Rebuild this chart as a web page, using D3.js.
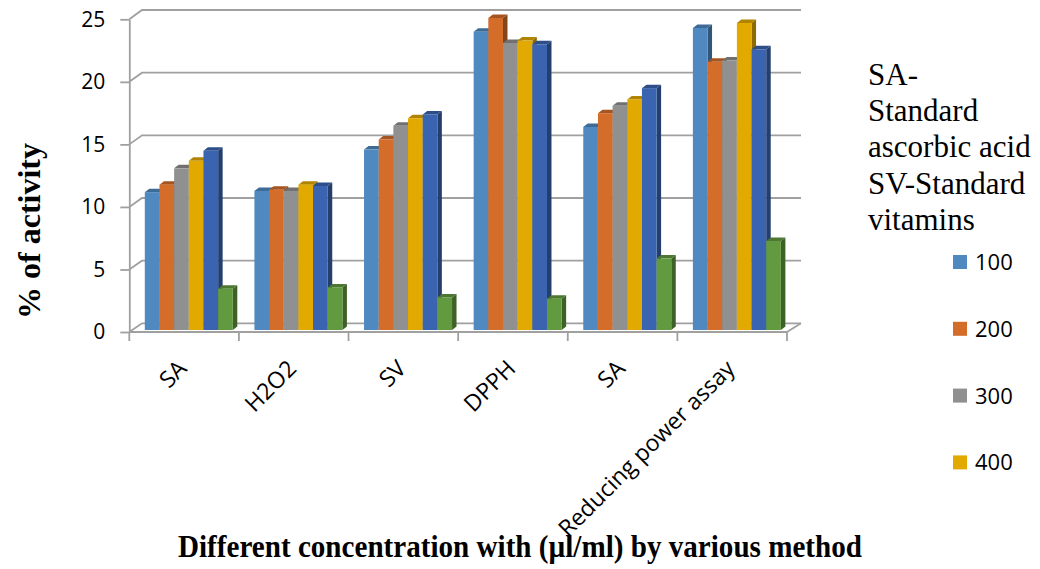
<!DOCTYPE html>
<html>
<head>
<meta charset="utf-8">
<script src="https://cdn.jsdelivr.net/npm/d3@7"></script>
<style>
  html, body { margin: 0; padding: 0; background: #ffffff; }
  svg { display: block; }
</style>
</head>
<body>
<svg id="chart" width="1040" height="569"></svg>
<script>
// ---- data -------------------------------------------------------------
const categories = ["SA", "H2O2", "SV", "DPPH", "SA", "Reducing power assay"];
const series = ["100", "200", "300", "400", "500", "600"];
const legendSeries = ["100", "200", "300", "400"];   // the legend column only holds four entries
const colors = ["#5089C0", "#D46D2A", "#909090", "#E2AA00", "#3A64AF", "#629A40"];

const values100 = [11.0, 11.1, 14.4, 23.8, 16.2, 24.1];
const values200 = [11.6, 11.2, 15.2, 24.9, 17.3, 21.4];
const values300 = [12.9, 11.1, 16.3, 22.9, 17.9, 21.5];
const values400 = [13.5, 11.6, 16.9, 23.1, 18.4, 24.5];
const values500 = [14.3, 11.5, 17.2, 22.8, 19.3, 22.4];
const values600 = [3.3, 3.4, 2.6, 2.5, 5.7, 7.1];
const seriesValues = [values100, values200, values300, values400, values500, values600];

const yTicks = [0, 5, 10, 15, 20, 25];
const legendNote = ["SA-", "Standard", "ascorbic acid", "SV-Standard", "vitamins"];
const yTitle = "% of activity";
const xTitle = "Different concentration with (\u00b5l/ml) by various method";

// ---- layout -----------------------------------------------------------
const svg = d3.select("#chart");
const gridColor = "#A0A0A0";
const sansFont = "'Open Sans', 'Noto Sans', sans-serif";
const serifFont = "'Liberation Serif', 'DejaVu Serif', serif";

const frontLeft = 129.3, frontRight = 787;   // front edge of the floor
const backLeft = 142, backRight = 801;       // back wall
const depth = { dx: 4.5, dy: 3.5 };          // 3-D extrusion of each column

const yFront = d3.scaleLinear().domain([0, 25]).range([332, 19.3]);
const yBack = d3.scaleLinear().domain([0, 25]).range([323.3, 10]);
const yBar = d3.scaleLinear().domain([0, 25]).range([330, 16.7]);

const xBand = d3.scaleBand().domain(d3.range(categories.length)).range([frontLeft, frontRight]);
const groupOffset = 15.5;
const xSeries = d3.scaleBand().domain(series).range([0, 88]);

// ---- walls and gridlines ------------------------------------------------
const grid = svg.append("g").attr("fill", "none").attr("stroke", gridColor).attr("stroke-width", 1.8);
grid.selectAll("path.grid")
  .data(yTicks)
  .join("path")
  .attr("class", "grid")
  .attr("d", t => `M${frontLeft},${yFront(t)}L${backLeft},${yBack(t)}L${backRight},${yBack(t)}`);
// right edge of the floor
grid.append("path")
  .attr("d", `M${frontRight},${yFront(0)}L${backRight},${yBack(0)}`);

// ---- 3-D columns ------------------------------------------------------------
const bars = [];
categories.forEach((c, ci) => {
  series.forEach((s, si) => {
    bars.push({ ci, si, value: seriesValues[si][ci], color: colors[si] });
  });
});

const barG = svg.append("g");
const barNode = barG.selectAll("g.bar")
  .data(bars)
  .join("g")
  .attr("class", "bar");

function geom(d) {
  const x0 = xBand(d.ci) + groupOffset + xSeries(series[d.si]);
  const x1 = x0 + xSeries.bandwidth();
  const yt = yBar(d.value), yb = yBar(0);
  return { x0, x1, yt, yb };
}

barNode.append("path")   // side face
  .attr("fill", d => d3.color(d.color).darker(1.3))
  .attr("d", d => {
    const g = geom(d);
    return `M${g.x1},${g.yt}L${g.x1 + depth.dx},${g.yt - depth.dy}L${g.x1 + depth.dx},${g.yb - depth.dy}L${g.x1},${g.yb}Z`;
  });
barNode.append("path")   // top face
  .attr("fill", d => d3.color(d.color).darker(0.7))
  .attr("d", d => {
    const g = geom(d);
    return `M${g.x0},${g.yt}L${g.x0 + depth.dx},${g.yt - depth.dy}L${g.x1 + depth.dx},${g.yt - depth.dy}L${g.x1},${g.yt}Z`;
  });
barNode.append("rect")   // front face
  .attr("fill", d => d.color)
  .attr("x", d => geom(d).x0)
  .attr("y", d => geom(d).yt)
  .attr("width", xSeries.bandwidth())
  .attr("height", d => geom(d).yb - geom(d).yt);

// ---- axes -----------------------------------------------------------------
const yAxis = svg.append("g")
  .attr("transform", `translate(${frontLeft},0)`)
  .call(d3.axisLeft(yFront).tickValues(yTicks).tickSize(9).tickSizeOuter(0).tickPadding(15));
yAxis.select(".domain").attr("stroke", gridColor).attr("stroke-width", 1.8);
yAxis.selectAll(".tick line").attr("stroke", gridColor).attr("stroke-width", 1.8);
yAxis.selectAll(".tick text")
  .attr("font-family", sansFont)
  .attr("font-size", 21)
  .attr("fill", "#000");

// category axis along the front of the floor, ticks between categories
const boundaries = d3.range(categories.length).map(i => xBand(i)).concat([frontRight]);
const xAxis = svg.append("g").attr("stroke", gridColor).attr("stroke-width", 1.8);
xAxis.append("path").attr("fill", "none").attr("d", `M${frontLeft},${yFront(0)}H${frontRight}`);
xAxis.selectAll("line")
  .data(boundaries)
  .join("line")
  .attr("x1", d => d).attr("x2", d => d)
  .attr("y1", yFront(0)).attr("y2", yFront(0) + 9);

svg.append("g")
  .selectAll("text")
  .data(categories)
  .join("text")
  .attr("transform", (d, i) => `translate(${xBand(i) + xBand.bandwidth() / 2 + 4},${370}) rotate(-45)`)
  .attr("text-anchor", "end")
  .attr("font-family", sansFont)
  .attr("font-size", 23)
  .attr("fill", "#000")
  .text(d => d);

// ---- titles ----------------------------------------------------------------
svg.append("text")
  .attr("transform", "translate(40,231) rotate(-90)")
  .attr("text-anchor", "middle")
  .attr("font-family", serifFont)
  .attr("font-weight", "bold")
  .attr("font-size", 32)
  .attr("fill", "#000")
  .text(yTitle);

svg.append("text")
  .attr("x", 178)
  .attr("y", 557)
  .attr("textLength", 684)
  .attr("lengthAdjust", "spacingAndGlyphs")
  .attr("font-family", serifFont)
  .attr("font-weight", "bold")
  .attr("font-size", 31)
  .attr("fill", "#000")
  .text(xTitle);

// ---- legend ----------------------------------------------------------------
svg.append("g")
  .selectAll("text")
  .data(legendNote)
  .join("text")
  .attr("x", 868)
  .attr("y", (d, i) => 85 + i * 36.2)
  .attr("font-family", serifFont)
  .attr("font-size", 31)
  .attr("fill", "#000")
  .text(d => d);

const legendItem = svg.append("g")
  .selectAll("g")
  .data(legendSeries)
  .join("g")
  .attr("transform", (d, i) => `translate(953,${262 + i * 66.8})`);
legendItem.append("rect")
  .attr("x", 0).attr("y", -7).attr("width", 14).attr("height", 14)
  .attr("fill", d => colors[series.indexOf(d)]);
legendItem.append("text")
  .attr("x", 22).attr("y", 0).attr("dy", "0.36em")
  .attr("font-family", sansFont)
  .attr("font-size", 22)
  .attr("fill", "#000")
  .text(d => d);
</script>
</body>
</html>
